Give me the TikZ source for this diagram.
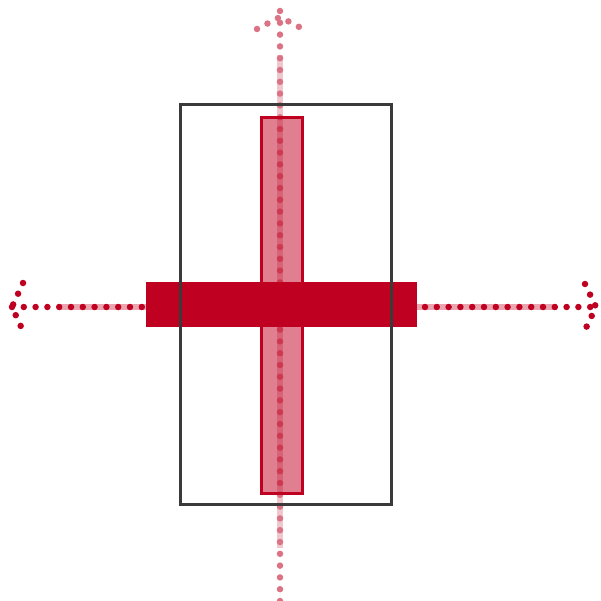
\documentclass[tikz,border=0pt]{standalone}
\usepackage{xcolor}
\usepackage{tikz}

\definecolor{barred}{RGB}{192,0,32}
\definecolor{framegray}{RGB}{58,58,58}

\begin{document}
\begin{tikzpicture}[x=1pt, y=-1pt,
  band/.style={line width=6.5pt},
  hdots/.style={barred, line width=6.5pt, line cap=round, dash pattern=on 0pt off 11.8pt},
  vdots/.style={barred!55, line width=6.5pt, line cap=round, dash pattern=on 0pt off 11.8pt}]
  \useasboundingbox (0,0) rectangle (600,601);
  % axes
  \coordinate (west) at (12,307);
  \coordinate (east) at (596,307);
  \coordinate (north) at (280,11);
  \coordinate (south) at (280,601);
  \draw[band, barred!35] (60,307) -- (557,307);
  \draw[band, barred!22] (280,55) -- (280,548);
  \draw[hdots] (west) -- (east);
  \draw[vdots] (north) -- (south);
  \draw[hdots] (23,283) -- (west) -- (23,331);
  \draw[hdots] (585,284) -- (east) -- (585,330);
  \draw[vdots] (257,29) -- (280,17) -- (303,29);
  % bars and frame
  \node[draw=barred, line width=3pt, fill=barred, fill opacity=0.5, minimum width=41pt, minimum height=375pt, inner sep=0pt] (vbar) at (281.5,305.5) {};
  \node[fill=barred, minimum width=271pt, minimum height=45pt, inner sep=0pt] (hbar) at (281.5,304.5) {};
  \node[draw=framegray, line width=3pt, minimum width=211pt, minimum height=399pt, inner sep=0pt] (frame) at (285.5,304.5) {};
\end{tikzpicture}
\end{document}
